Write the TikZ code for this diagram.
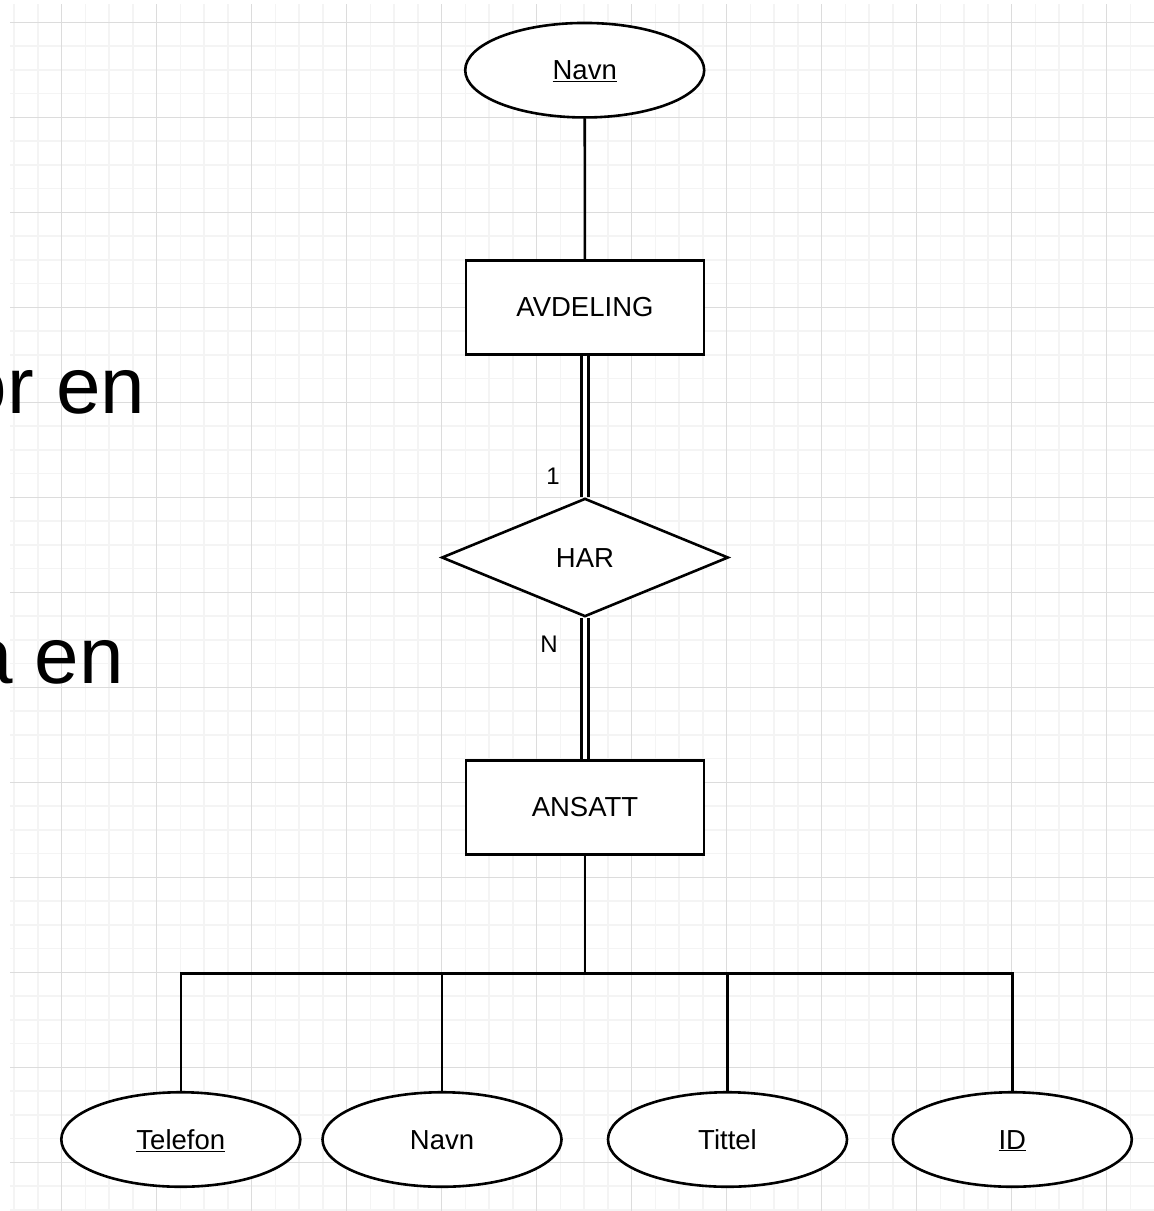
\documentclass[tikz,border=0pt]{standalone}
\usepackage{fontspec}
\setmainfont{Liberation Sans}
\usetikzlibrary{shapes.geometric}
\definecolor{gridminor}{RGB}{244,244,244}
\definecolor{gridmajor}{RGB}{220,220,220}
\newcommand\erkey[1]{\underline{#1}}
\begin{document}
\begin{tikzpicture}[x=1pt,y=-1pt,
  outline/.style={draw=black, line width=2.6pt, fill=white, inner sep=0pt,
    text height=19.5pt, text depth=0pt, font=\fontsize{27.5}{33}\selectfont},
  entity/.style={outline, rectangle, minimum width=238pt, minimum height=94pt},
  attr/.style={outline, ellipse, minimum width=239pt, minimum height=94.5pt},
  relation/.style={outline, diamond, minimum width=286.7pt, minimum height=118.3pt},
  link/.style={draw=black, line width=2.6pt},
  dlink/.style={draw=black, line width=3pt, double=white, double distance=3.6pt},
  card/.style={inner sep=0pt, font=\fontsize{24}{29}\selectfont},
  minorline/.style={draw=gridminor, line width=1.5pt},
  majorline/.style={draw=gridmajor, line width=1.1pt},
  slidetext/.style={inner sep=0pt, anchor=base east, font=\fontsize{80}{96}\selectfont}
]
\useasboundingbox (0,0) rectangle (1154,1211);
\fill[white] (0,0) rectangle (1154,1211);

% background grid
\foreach \i in {0,...,47} \draw[minorline] ({14.2+23.75*\i},4) -- ({14.2+23.75*\i},1211);
\foreach \j in {0,...,50} \draw[minorline] (10,{22.3+23.75*\j}) -- (1154,{22.3+23.75*\j});
\foreach \i in {0,...,11} \draw[majorline] ({61.7+95*\i},4) -- ({61.7+95*\i},1211);
\foreach \j in {0,...,12} \draw[majorline] (10,{22.3+95*\j}) -- (1154,{22.3+95*\j});

% slide text running in from the left
\begin{scope}
  \clip (0,0) rectangle (1154,1211);
  \node[slidetext] (line1) at (145.5,413.3) {or en};
  \node[slidetext] (line2) at (124,683.3) {a en};
\end{scope}

% entities, relationship and attributes
\node[attr] (dnavn) at (584.7,70.2) {\erkey{Navn}};
\node[entity] (avd) at (585,307.2) {AVDELING};
\node[relation] (har) at (585,557.5) {HAR};
\node[entity] (ans) at (585,807.2) {ANSATT};

\node[attr] (tlf) at (180.8,1139.5) {\erkey{Telefon}};
\node[attr] (anavn) at (442,1139.5) {Navn};
\node[attr] (tittel) at (727.5,1139.5) {Tittel};
\node[attr] (id) at (1012.3,1139.5) {\erkey{ID}};

\coordinate (bar) at (585,973.3);

% connectors
\draw[link] (dnavn) -- (avd);
\draw[dlink] (avd) -- node[card, pos=0.85, xshift=-32pt] (c1) {1} (har);
\draw[dlink] (har) -- node[card, pos=0.19, xshift=-36pt] (cn) {N} (ans);
\draw[link] (ans) -- (bar);
\draw[link] (tlf.north) |- (bar) -| (id.north);
\draw[link] (anavn.north) -- (anavn.north |- bar);
\draw[link] (tittel.north) -- (tittel.north |- bar);
\end{tikzpicture}
\end{document}
